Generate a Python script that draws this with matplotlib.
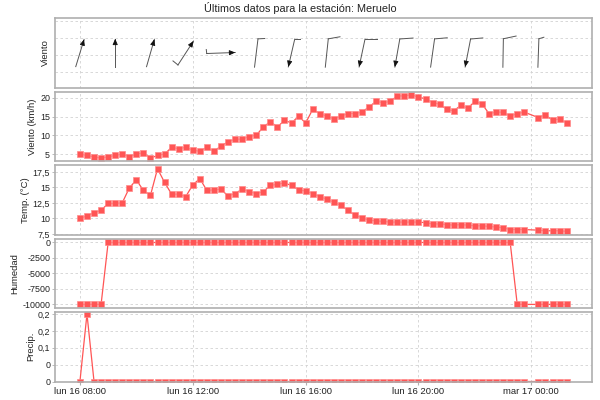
import matplotlib
matplotlib.use("Agg")
import matplotlib.pyplot as plt
import matplotlib.dates as mdates
import numpy as np
import pandas as pd
from matplotlib.ticker import FixedLocator, FuncFormatter, NullFormatter

plt.rcParams["font.family"] = ["Liberation Sans", "DejaVu Sans"]

RED = "#FF5555"
GRID = "#D2D2D2"
BORDER = "#AFAFAF"
TEXT = "#222222"

# readings every 15 min from lun 16 08:00; the mar 17 00:00 slot is missing
slots = pd.date_range("2015-03-16 08:00", periods=70, freq="15min")
times = slots.delete(64)

wind_kmh = [
    5.04, 4.68, 4.32, 3.96, 4.32, 4.68, 5.04, 4.32, 5.04, 5.4,
    3.96, 4.68, 5.04, 6.84, 6.48, 6.84, 6.12, 5.76, 6.84, 5.76,
    7.2, 8.28, 9.0, 9.0, 9.72, 10.08, 12.24, 13.68, 12.24, 14.04,
    13.32, 15.12, 13.32, 16.92, 15.84, 15.12, 14.4, 15.12, 15.84, 15.84,
    16.2, 17.64, 19.08, 18.72, 19.08, 20.52, 20.52, 20.88, 20.16, 19.8,
    18.72, 18.36, 16.92, 16.56, 18.0, 17.28, 19.08, 18.36, 15.84, 16.2,
    16.2, 15.12, 15.84, 16.2,
    14.76, 15.48, 14.04, 14.4, 13.32,
]
temp_c = [
    10.0, 10.4, 10.9, 11.3, 12.4, 12.4, 12.5, 14.9, 16.2, 14.5,
    13.7, 18.0, 15.8, 13.9, 13.9, 13.5, 15.4, 16.4, 14.5, 14.6,
    14.7, 13.6, 14.0, 14.7, 14.3, 14.0, 14.3, 15.3, 15.5, 15.7,
    15.3, 14.6, 14.4, 14.0, 13.5, 13.1, 12.6, 12.1, 11.3, 10.5,
    10.1, 9.7, 9.6, 9.5, 9.4, 9.4, 9.4, 9.4, 9.4, 9.3,
    9.1, 9.1, 9.0, 8.9, 9.0, 8.9, 8.8, 8.8, 8.7, 8.6,
    8.5, 8.2, 8.2, 8.2,
    8.1, 8.0, 8.0, 8.0, 7.9,
]
humidity = (
    [-10000] * 4
    + [0] * 58
    + [-10000] * 2
    + [-10000] * 5
)
precip = [0, 0.2] + [0] * 67

# wind glyphs, one every 5 slots
glyph_slot = [0, 5, 10, 15, 20, 25, 30, 35, 40, 45, 50, 55, 60, 65]
glyph_heading = [73, 90, 74, 57, 2, 263, 257, 264, 258, 260, 262, 259, 269, 268]
glyph_arrow = [1, 1, 1, 1, 1, 0, 1, 0, 1, 1, 0, 1, 0, 0]
barb_len = [0, 0, 0, 6.4, 4, 6.7, 5, 11.9, 12.3, 13.3, 12.7, 12.3, 13, 5.2]
barb_dir = [0, 0, 0, 141, 97, 3, 0, 10, 0, 4, 5, 5, 12, 17]

tick_times = pd.to_datetime([
    "2015-03-16 08:00", "2015-03-16 12:00", "2015-03-16 16:00",
    "2015-03-16 20:00", "2015-03-17 00:00",
])
tick_labels = ["lun 16 08:00", "lun 16 12:00", "lun 16 16:00",
               "lun 16 20:00", "mar 17 00:00"]

W, H = 600, 400
left, right = 55, 592
top0, ph, gap = 18, 69.5, 4

fig = plt.figure(figsize=(W / 100, H / 100), dpi=100)
fig.text(0.5, 1 - 8 / H, "Últimos datos para la estación: Meruelo",
         ha="center", va="center", fontsize=7.8, color=TEXT)

xmin = times[0] - pd.Timedelta(minutes=53)
xmax = times[-1] + pd.Timedelta(minutes=54)

axes = []
for i in range(5):
    top = top0 + i * (ph + gap)
    ax = fig.add_axes([left / W, 1 - (top + ph) / H, (right - left) / W, ph / H])
    ax.set_xlim(xmin, xmax)
    ax.xaxis.set_major_locator(FixedLocator(mdates.date2num(tick_times)))
    for s in ax.spines.values():
        s.set_color(BORDER)
        s.set_linewidth(1.2)
    ax.grid(True, color=GRID, linestyle=(0, (3, 3)), linewidth=0.6)
    ax.set_axisbelow(True)
    ax.tick_params(axis="y", labelsize=6.4, colors=BORDER, labelcolor=TEXT,
                   length=2, width=0.6, pad=1.5)
    ax.tick_params(axis="x", length=0, labelbottom=False)
    axes.append(ax)

comma = FuncFormatter(lambda v, p: f"{v:g}".replace(".", ","))

# panel 1: wind direction glyphs
ax = axes[0]
ax.set_ylim(-0.95, 3.18)
ax.yaxis.set_major_locator(FixedLocator([0, 1, 2, 3]))
ax.yaxis.set_major_formatter(NullFormatter())
ax.tick_params(axis="y", length=0)
ax.set_ylabel("Viento", fontsize=6.8, color=TEXT, labelpad=2)

span = mdates.date2num(xmax) - mdates.date2num(xmin)
px_x = (right - left) / span
px_y = ph / (3.18 + 0.95)
staff = 28.5
yc = 1.1
for slot, hd, arr, bl, bd in zip(glyph_slot, glyph_heading, glyph_arrow,
                                 barb_len, barb_dir):
    xc = mdates.date2num(slots[slot])
    ux, uy = np.cos(np.radians(hd)), np.sin(np.radians(hd))
    tail = (xc - staff / 2 * ux / px_x, yc - staff / 2 * uy / px_y)
    head = (xc + staff / 2 * ux / px_x, yc + staff / 2 * uy / px_y)
    ax.plot([tail[0], head[0]], [tail[1], head[1]], color="#555555", lw=0.7)
    if arr:
        ax.annotate("", xy=head, xytext=(head[0] - 5 * ux / px_x, head[1] - 5 * uy / px_y),
                    arrowprops=dict(arrowstyle="-|>,head_length=0.35,head_width=0.15",
                                    color="#111111", lw=0.6,
                                    shrinkA=0, shrinkB=0, mutation_scale=10))
    if bl:
        bx = tail[0] + bl * np.cos(np.radians(bd)) / px_x
        by = tail[1] + bl * np.sin(np.radians(bd)) / px_y
        ax.plot([tail[0], bx], [tail[1], by], color="#555555", lw=0.7)

series = [
    (axes[1], wind_kmh, "Viento (km/h)", (3.2, 21.7), [5, 10, 15, 20], None),
    (axes[2], temp_c, "Temp. (°C)", (7.4, 18.6), [7.5, 10, 12.5, 15, 17.5], None),
    (axes[3], humidity, "Humedad", (-10580, 640),
     [-10000, -7500, -5000, -2500, 0], None),
    (axes[4], precip, "Precip.", (0, 0.206), [0, 0.05, 0.1, 0.15, 0.2],
     ["0", "0", "0,1", "0,2", "0,2"]),
]
for ax, vals, label, ylim, yt, ylab in series:
    ax.plot(times, vals, color=RED, lw=0.9, marker="s", markersize=4.6,
            markerfacecolor=RED, markeredgecolor="#FF8A8A", markeredgewidth=0.5)
    ax.set_ylim(*ylim)
    ax.yaxis.set_major_locator(FixedLocator(yt))
    if ylab:
        ax.set_yticklabels(ylab)
    else:
        ax.yaxis.set_major_formatter(comma)
    ax.set_ylabel(label, fontsize=6.8, color=TEXT, labelpad=2)

axes[4].tick_params(axis="x", labelbottom=True, length=2, colors=BORDER,
                    labelcolor=TEXT, labelsize=6.8, pad=2)
axes[4].set_xticklabels(tick_labels)

fig.savefig("out.png", dpi=100)
